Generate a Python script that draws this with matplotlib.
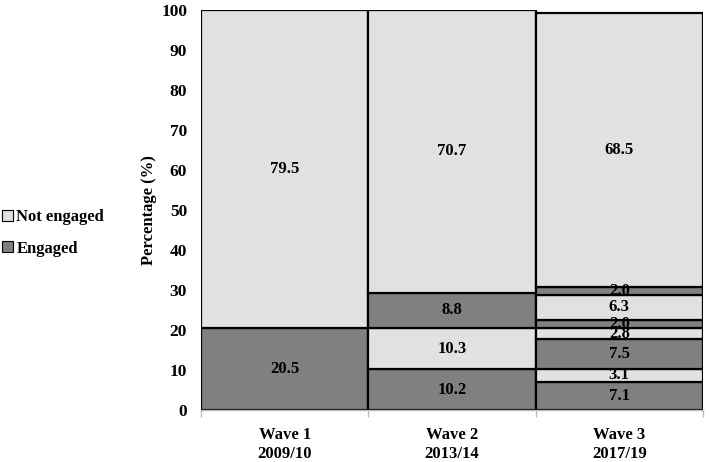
import matplotlib
matplotlib.use("Agg")
import matplotlib.pyplot as plt
from matplotlib.patches import Patch
from matplotlib.ticker import FixedLocator

plt.rcParams['font.family'] = ['Liberation Serif', 'DejaVu Serif']
plt.rcParams['font.weight'] = 'bold'

categories = ["Wave 1\n2009/10", "Wave 2\n2013/14", "Wave 3\n2017/19"]
# segments stacked bottom to top; status: 'E' engaged, 'N' not engaged
wave1_values = [20.5, 79.5]
wave1_status = ['E', 'N']
wave2_values = [10.2, 10.3, 8.8, 70.7]
wave2_status = ['E', 'N', 'E', 'N']
wave3_values = [7.1, 3.1, 7.5, 2.8, 2.0, 6.3, 2.0, 68.5]
wave3_status = ['E', 'N', 'E', 'N', 'E', 'N', 'E', 'N']
yticks = [0, 10, 20, 30, 40, 50, 60, 70, 80, 90, 100]

colors = {'E': '#808080', 'N': '#e1e1e1'}

fig = plt.figure(figsize=(7.09, 4.62), dpi=100)
ax = fig.add_axes([0.2835, 0.1126, 0.708, 0.866])

waves = [(wave1_values, wave1_status), (wave2_values, wave2_status), (wave3_values, wave3_status)]
for i, (vals, stats) in enumerate(waves):
    bottom = 0.0
    for v, s in zip(vals, stats):
        ax.bar(i, v, bottom=bottom, width=1.0, color=colors[s],
               edgecolor='black', linewidth=1.6, zorder=2)
        ax.text(i, bottom + v / 2, f"{v:.1f}", ha='center', va='center',
                fontsize=12, fontweight='bold', color='black', zorder=3)
        bottom += v

ax.set_xlim(-0.5, 2.5)
ax.set_ylim(0, 100)
ax.set_yticks(yticks)
ax.set_yticklabels([str(t) for t in yticks], fontsize=12.5, fontweight='bold')
ax.tick_params(axis='y', length=0, pad=10)
ax.set_xticks(range(len(categories)))
ax.set_xticklabels(categories, fontsize=12, fontweight='bold', linespacing=1.25)
ax.tick_params(axis='x', which='major', length=0, pad=12)
ax.xaxis.set_minor_locator(FixedLocator([-0.5, 0.5, 1.5, 2.5]))
ax.tick_params(axis='x', which='minor', length=5, color='#bbbbbb', width=1)

for sp in ['top', 'right', 'left']:
    ax.spines[sp].set_visible(False)
ax.spines['bottom'].set_color('#bbbbbb')
ax.spines['bottom'].set_linewidth(1)

ax.set_ylabel("Percentage (%)", fontsize=12, fontweight='bold', labelpad=3)

handles = [Patch(facecolor=colors['N'], edgecolor='black', linewidth=0.8, label='Not engaged'),
           Patch(facecolor=colors['E'], edgecolor='black', linewidth=0.8, label='Engaged')]
fig.legend(handles=handles, loc='center left', bbox_to_anchor=(-0.018, 0.496),
           frameon=False, handlelength=0.65, handleheight=0.65,
           handletextpad=0.2, labelspacing=0.95, prop={'weight': 'bold', 'size': 12})

fig.savefig("out.png", dpi=100)
